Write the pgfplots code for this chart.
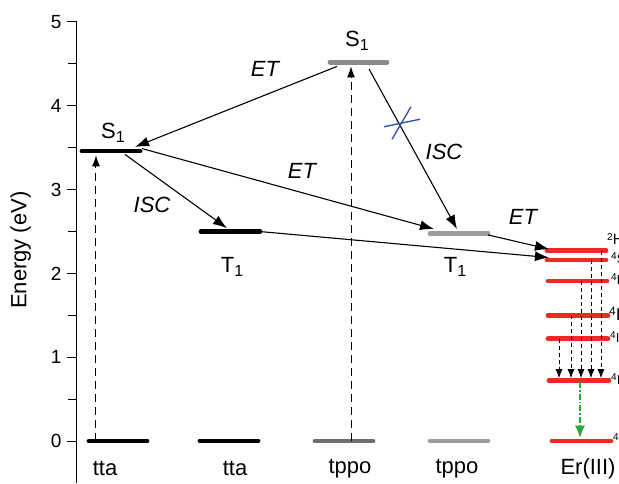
\documentclass[border=0pt]{standalone}
\usepackage{pgfplots}
\pgfplotsset{compat=1.18}
\usepackage{fontspec}
\setmainfont{Liberation Sans}
\usetikzlibrary{arrows.meta}
\definecolor{dgray}{HTML}{6E6E6E}
\definecolor{mgray}{HTML}{8A8A8A}
\definecolor{lgray}{HTML}{9C9C9C}
\definecolor{erred}{HTML}{EE2A24}
\definecolor{xblue}{HTML}{3A56A8}
\definecolor{egreen}{HTML}{22AA3A}
\tikzset{
  lev/.style={line width=4.8pt, line cap=round},
  arr/.style={line width=1.1pt, -{Latex[length=14pt,width=10pt]}},
  vup/.style={line width=1pt, dash pattern=on 8pt off 5pt, -{Latex[length=11pt,width=8pt]}},
  edn/.style={line width=0.9pt, dash pattern=on 4pt off 3pt, -{Latex[length=9pt,width=7pt]}},
  lab/.style={font=\fontsize{22}{22}\selectfont},
  itl/.style={font=\fontsize{22}{22}\selectfont\itshape},
}
\newcommand{\st}[2]{#1\raisebox{-0.35ex}{\fontsize{16}{16}\selectfont #2}}
\begin{document}
\begin{tikzpicture}
\begin{axis}[
  scale only axis, width=542pt, height=461pt,
  xmin=77, xmax=619, ymin=-0.5, ymax=5,
  axis y line*=left, axis x line=none,
  ytick={0,1,2,3,4,5}, minor ytick={0.5,1.5,2.5,3.5,4.5},
  tick align=outside, major tick length=10pt, minor tick length=9pt,
  tick style={line width=1pt, black},
  axis line style={line width=1pt},
  yticklabel style={font=\fontsize{19}{19}\selectfont, xshift=-2pt},
  /pgf/number format/assume math mode=true,
  ylabel={Energy (eV)},
  ylabel style={font=\fontsize{22}{22}\selectfont, at={(axis description cs:-0.104,0.505)}, anchor=center},
  clip=false,
]
% tta levels
\addplot[lev, black] coordinates {(82,3.46) (140,3.46)};
\addplot[lev, black] coordinates {(201,2.50) (260,2.50)};
\addplot[lev, black] coordinates {(89,0) (147,0)};
\addplot[lev, black] coordinates {(200,0) (258,0)};
% tppo levels
\addplot[lev, mgray] coordinates {(330,4.52) (387,4.52)};
\addplot[lev, lgray] coordinates {(430,2.48) (488,2.48)};
\addplot[lev, dgray] coordinates {(315,0) (373,0)};
\addplot[lev, lgray] coordinates {(430,0) (488,0)};
% Er levels
\addplot[lev, erred] coordinates {(547,2.27) (606,2.27)};
\addplot[lev, erred] coordinates {(547,2.16) (606,2.16)};
\addplot[lev, erred] coordinates {(548,1.91) (607,1.91)};
\addplot[lev, erred] coordinates {(548,1.50) (608,1.50)};
\addplot[lev, erred] coordinates {(548,1.22) (608,1.22)};
\addplot[lev, erred] coordinates {(549,0.72) (609,0.72)};
\addplot[lev, erred] coordinates {(552,0) (611,0)};
% vertical excitation arrows
\addplot[vup] coordinates {(96,0) (96,3.41)};
\addplot[vup] coordinates {(351,0) (351,4.47)};
% transfer arrows
\addplot[arr] coordinates {(337,4.47) (135,3.51)};
\addplot[arr] coordinates {(369,4.44) (457,2.53)};
\addplot[arr] coordinates {(142,3.49) (434,2.53)};
\addplot[arr] coordinates {(125,3.42) (227,2.54)};
\addplot[arr] coordinates {(260,2.50) (549,2.19)};
\addplot[arr] coordinates {(488,2.46) (549,2.29)};
% blue cross
\addplot[xblue, line width=1.4pt] coordinates {(384,3.75) (420,3.84)};
\addplot[xblue, line width=1.4pt] coordinates {(392,3.60) (411,3.99)};
% Er relaxation arrows
\addplot[edn] coordinates {(559,1.22) (559,0.75)};
\addplot[edn] coordinates {(571,1.50) (571,0.75)};
\addplot[edn] coordinates {(581,1.91) (581,0.75)};
\addplot[edn] coordinates {(591,2.16) (591,0.75)};
\addplot[edn] coordinates {(601,2.27) (601,0.75)};
\addplot[egreen, line width=1.1pt, dash pattern=on 6pt off 2pt on 1.5pt off 2pt, -{Latex[length=12pt,width=10pt]}] coordinates {(580,0.70) (580,0.04)};
% labels
\node[lab] at (axis cs:113,3.68) {\st{S}{1}};
\node[lab] at (axis cs:232,2.08) {\st{T}{1}};
\node[lab] at (axis cs:357,4.77) {\st{S}{1}};
\node[lab] at (axis cs:455,2.08) {\st{T}{1}};
\node[itl] at (axis cs:265,4.44) {ET};
\node[itl] at (axis cs:152,2.82) {ISC};
\node[itl] at (axis cs:302,3.22) {ET};
\node[itl] at (axis cs:444,3.45) {ISC};
\node[itl] at (axis cs:523,2.68) {ET};
\node[lab] at (axis cs:105,-0.33) {tta};
\node[lab] at (axis cs:235,-0.33) {tta};
\node[lab] at (axis cs:350,-0.33) {tppo};
\node[lab] at (axis cs:457,-0.33) {tppo};
\node[lab] at (axis cs:588,-0.33) {Er(III)};
% Er term labels
\node[anchor=base west, inner sep=0pt, font=\fontsize{15}{15}\selectfont] at (axis cs:607,2.34) {\raisebox{0.6ex}{\fontsize{10}{10}\selectfont 2}H\textsubscript{11/2}};
\node[anchor=base west, inner sep=0pt, font=\fontsize{13}{13}\selectfont] at (axis cs:611,2.12) {\raisebox{0.6ex}{\fontsize{10}{10}\selectfont 4}S\textsubscript{3/2}};
\node[anchor=base west, inner sep=0pt, font=\fontsize{13}{13}\selectfont] at (axis cs:611,1.87) {\raisebox{0.6ex}{\fontsize{10}{10}\selectfont 4}F\textsubscript{9/2}};
\node[anchor=base west, inner sep=0pt, font=\fontsize{17}{17}\selectfont] at (axis cs:609,1.44) {\raisebox{0.6ex}{\fontsize{12}{12}\selectfont 4}I\textsubscript{9/2}};
\node[anchor=base west, inner sep=0pt, font=\fontsize{13}{13}\selectfont] at (axis cs:610,1.18) {\raisebox{0.6ex}{\fontsize{10}{10}\selectfont 4}I\textsubscript{11/2}};
\node[anchor=base west, inner sep=0pt, font=\fontsize{13}{13}\selectfont] at (axis cs:611,0.67) {\raisebox{0.6ex}{\fontsize{10}{10}\selectfont 4}I\textsubscript{13/2}};
\node[anchor=base west, inner sep=0pt, font=\fontsize{13}{13}\selectfont] at (axis cs:613,-0.04) {\raisebox{0.6ex}{\fontsize{10}{10}\selectfont 4}I\textsubscript{15/2}};
\coordinate (bl) at (axis cs:0,-0.5);
\coordinate (tr) at (axis cs:619,5.2625);
\end{axis}
\pgfresetboundingbox
\path[use as bounding box] (bl) rectangle (tr);
\end{tikzpicture}
\end{document}
